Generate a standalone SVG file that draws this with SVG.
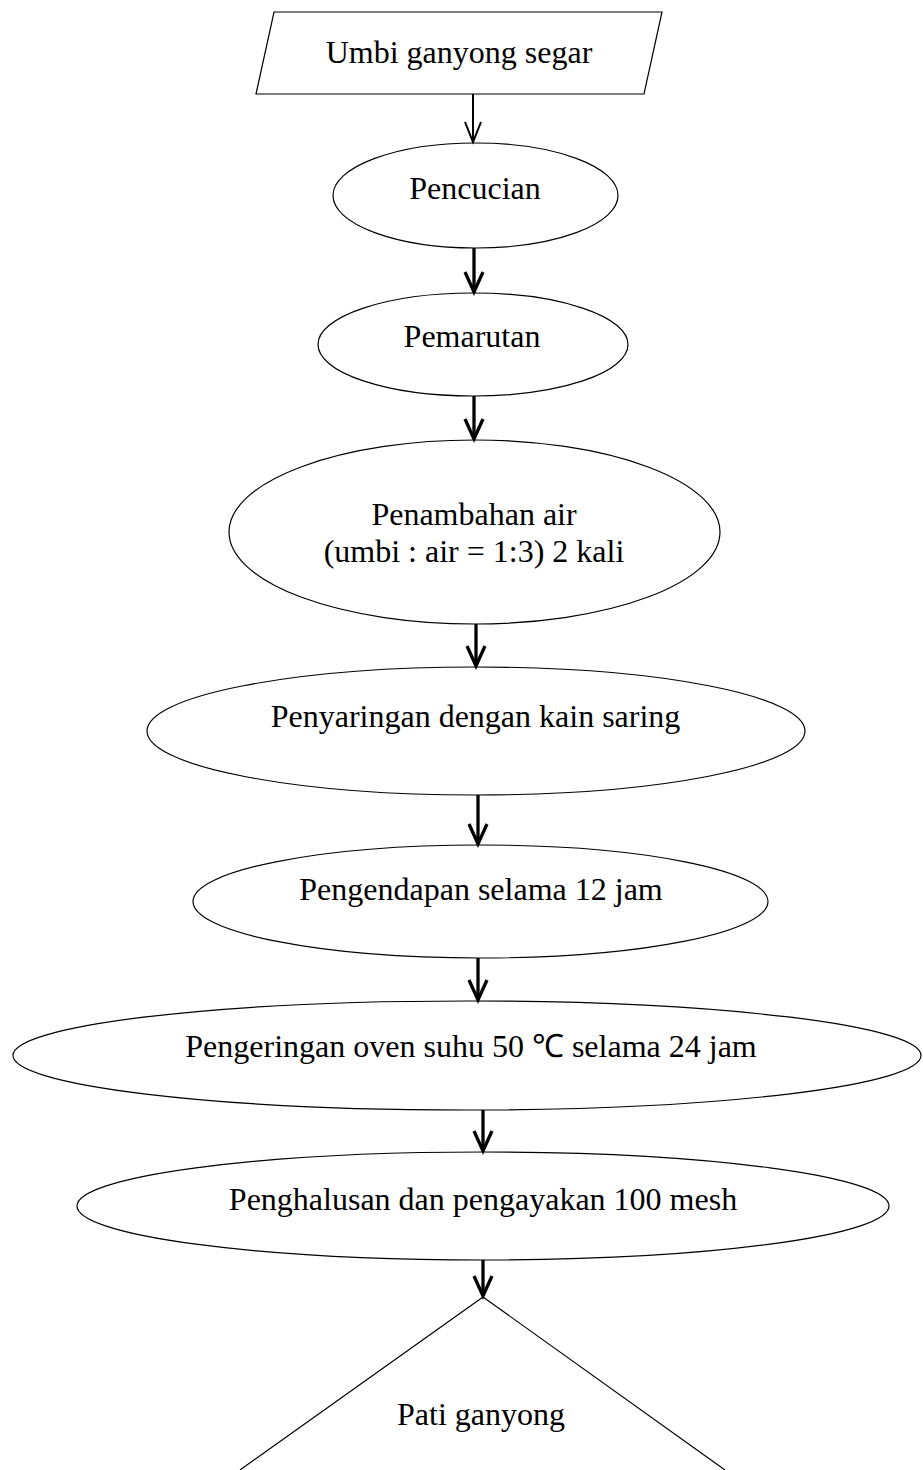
<svg xmlns="http://www.w3.org/2000/svg" width="923" height="1470" viewBox="0 0 923 1470">
<style>
.shape{fill:#ffffff;stroke:#000000;stroke-width:1.2}
.lbl{font-family:"Liberation Serif","Times New Roman",serif;font-size:32px;fill:#000000;text-anchor:middle}
.arr{stroke:#000000;fill:none;stroke-width:3.3}
.arr.thin{stroke-width:2}
</style>
<defs>
<marker id="vhead" markerUnits="userSpaceOnUse" orient="auto" refX="0" refY="0" markerWidth="40" markerHeight="40" viewBox="-30 -15 40 30" overflow="visible">
<path d="M-20,-9 L0,0 L-20,9" fill="none" stroke="#000000" stroke-width="3.3" stroke-linejoin="miter" stroke-linecap="butt"/>
</marker>
<marker id="vheadthin" markerUnits="userSpaceOnUse" orient="auto" refX="0" refY="0" markerWidth="40" markerHeight="40" viewBox="-30 -15 40 30" overflow="visible">
<path d="M-20,-8 L0,0 L-20,8" fill="none" stroke="#000000" stroke-width="2"/>
</marker>
</defs>
<rect width="923" height="1470" fill="#ffffff"/>
<g id="n1">
<polygon class="shape" points="274,12 662,12 644,94 256,94"/>
<text class="lbl" x="459" y="63">Umbi ganyong segar</text>
</g>
<g id="n2">
<ellipse class="shape" cx="475.5" cy="195.5" rx="142.5" ry="52.5"/>
<text class="lbl" x="475" y="199">Pencucian</text>
</g>
<g id="n3">
<ellipse class="shape" cx="473" cy="344.5" rx="155" ry="51.5"/>
<text class="lbl" x="472" y="347">Pemarutan</text>
</g>
<g id="n4">
<ellipse class="shape" cx="474.5" cy="532" rx="245.5" ry="92"/>
<text class="lbl" x="474" y="525">Penambahan air</text>
<text class="lbl" x="474" y="562">(umbi : air = 1:3) 2 kali</text>
</g>
<g id="n5">
<ellipse class="shape" cx="476" cy="731" rx="329" ry="64"/>
<text class="lbl" x="475.5" y="727">Penyaringan dengan kain saring</text>
</g>
<g id="n6">
<ellipse class="shape" cx="480.5" cy="901.5" rx="287.5" ry="56.5"/>
<text class="lbl" x="481" y="900">Pengendapan selama 12 jam</text>
</g>
<g id="n7">
<ellipse class="shape" cx="467" cy="1055.5" rx="454" ry="54.5"/>
<text class="lbl" x="471" y="1057">Pengeringan oven suhu 50 ℃ selama 24 jam</text>
</g>
<g id="n8">
<ellipse class="shape" cx="483" cy="1206" rx="406" ry="54"/>
<text class="lbl" x="483" y="1210">Penghalusan dan pengayakan 100 mesh</text>
</g>
<g id="n9">
<polyline class="shape" fill="none" points="240,1470 483,1297 725,1470" style="fill:none"/>
<text class="lbl" x="481" y="1425">Pati ganyong</text>
</g>
<g id="connectors">
<line class="arr thin" x1="473" y1="94" x2="473" y2="142" marker-end="url(#vheadthin)"/>
<line class="arr" x1="474" y1="248" x2="474" y2="292" marker-end="url(#vhead)"/>
<line class="arr" x1="474" y1="396" x2="474" y2="439" marker-end="url(#vhead)"/>
<line class="arr" x1="476" y1="624" x2="476" y2="666" marker-end="url(#vhead)"/>
<line class="arr" x1="478" y1="795" x2="478" y2="844" marker-end="url(#vhead)"/>
<line class="arr" x1="478" y1="958" x2="478" y2="1000" marker-end="url(#vhead)"/>
<line class="arr" x1="483" y1="1110" x2="483" y2="1151" marker-end="url(#vhead)"/>
<line class="arr" x1="483" y1="1260" x2="483" y2="1296" marker-end="url(#vhead)"/>
</g>
</svg>
